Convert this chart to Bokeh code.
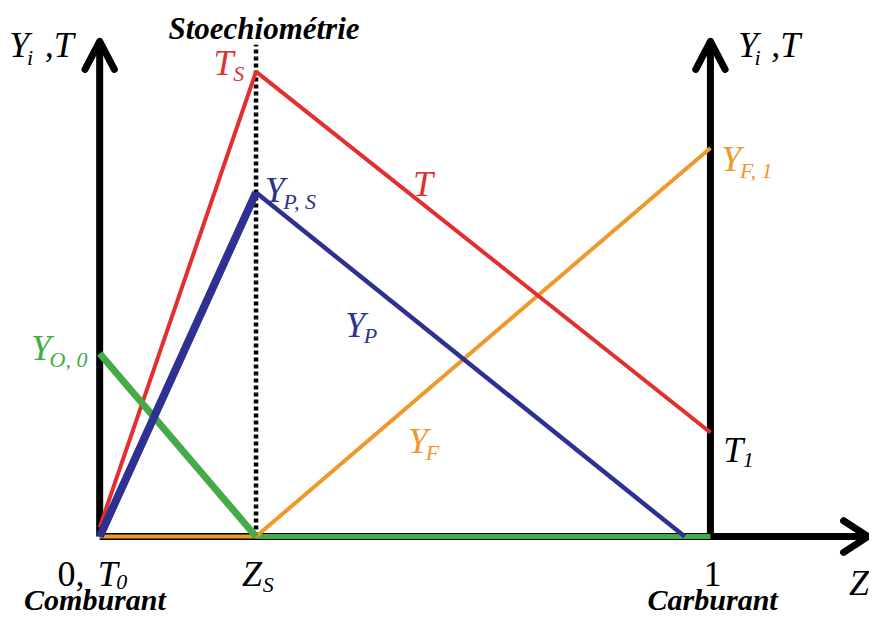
from bokeh.plotting import figure
from bokeh.models import Label
from bokeh.embed import file_html
from bokeh.resources import INLINE

# ---- data (normalised units: Z in [0,1], T_S = 1) ----
Z_S = 0.256
Z_P_END = 0.958
T_0 = 0.02
T_S = 1.0
T_1 = 0.224
Y_PS = 0.740
Y_O0 = 0.394
Y_F1 = 0.836

z_T = [0.0, Z_S, 1.0]
v_T = [T_0, T_S, T_1]
z_P_left = [0.0, Z_S]
v_P_left = [0.0, Y_PS]
z_P_right = [Z_S, Z_P_END]
v_P_right = [Y_PS, 0.0]
z_O_left = [0.0, Z_S]
v_O_left = [Y_O0, 0.0]
z_O_right = [Z_S, 1.0]
v_O_right = [0.0, 0.0]
z_F_left = [0.0, Z_S]
v_F_left = [0.0, 0.0]
z_F_right = [Z_S, 1.0]
v_F_right = [0.0, Y_F1]

AXIS_TOP = 1.065
X_AXIS_END = 1.258
DOT_TOP = 1.058

RED = "#e2302f"
BLUE = "#2e3192"
GREEN = "#45ab48"
ORANGE = "#ef982c"
BLACK = "#000000"

W, H = 869, 617
SX, SY = W / 885.0, H / 633.0
# reference image coords -> plot px (scaled)
PX0, PX1 = 101 * SX, 723 * SX     # Z=0, Z=1
PY0, PYS = 550 * SY, 73 * SY      # y=0, y=T_S (from top)
sx = (PX1 - PX0)
sy = (PY0 - PYS)


def X(img_x):
    return (img_x * SX - PX0) / sx


def Y(img_y):
    return (PY0 - img_y * SY) / sy


p = figure(width=W, height=H, output_backend="svg", toolbar_location=None,
           x_range=(-PX0 / sx, (W - PX0) / sx),
           y_range=(-(H - PY0) / sy, PY0 / sy),
           min_border=0, background_fill_color="white")
p.axis.visible = False
p.grid.visible = False
p.outline_line_color = None

# axes with arrows
p.line([0, 0], [0, AXIS_TOP], line_color=BLACK, line_width=7)
p.line([1, 1], [0, AXIS_TOP], line_color=BLACK, line_width=7)
p.line([0, X_AXIS_END], [0, 0], line_color=BLACK, line_width=7)
for zx in (0.0, 1.0):
    p.line([zx - 0.024, zx, zx + 0.024], [AXIS_TOP - 0.06, AXIS_TOP, AXIS_TOP - 0.06],
           line_color=BLACK, line_width=7, line_join="round", line_cap="round")
p.line([X_AXIS_END - 0.04, X_AXIS_END, X_AXIS_END - 0.04], [0.034, 0, -0.034],
       line_color=BLACK, line_width=7, line_join="round", line_cap="round")

# stoichiometric dotted line
p.line([Z_S, Z_S], [0, DOT_TOP], line_color=BLACK, line_width=4.5, line_dash="4 3")

# profiles
p.line(z_F_left, v_F_left, line_color=ORANGE, line_width=4)
p.line(z_O_right, v_O_right, line_color=GREEN, line_width=5)
p.line(z_F_right, v_F_right, line_color=ORANGE, line_width=4)
p.line(z_T, v_T, line_color=RED, line_width=4)
p.line(z_O_left, v_O_left, line_color=GREEN, line_width=7)
p.line(z_P_right, v_P_right, line_color=BLUE, line_width=4.5)
p.line(z_P_left, v_P_left, line_color=BLUE, line_width=8)

SERIF = "Liberation Serif"
MAIN = "36px"
SUB = "22px"


def txt(s, ix, iy, color=BLACK, size=MAIN, style="italic"):
    p.add_layout(Label(x=X(ix), y=Y(iy), text=s, text_color=color,
                       text_font=SERIF, text_font_size=size,
                       text_font_style=style, text_baseline="alphabetic",
                       text_align="left"))


# axis titles
txt("Y", 9, 46)
txt("i", 27, 58, size=SUB)
txt(",T", 45, 46)
txt("Y", 751, 46)
txt("i", 768, 58, size=SUB)
txt(",T", 785, 46)

txt("Stoechiométrie", 171, 29, size="31px", style="bold italic")

txt("T", 217, 64, RED)
txt("S", 237, 75, RED, SUB)
txt("T", 420, 188, RED)

txt("Y", 269, 194, BLUE)
txt("P, S", 288, 206, BLUE, SUB)
txt("Y", 351, 333, BLUE)
txt("P", 370, 344, BLUE, SUB)

txt("Y", 31, 356, GREEN)
txt("O, 0", 50, 368, GREEN, SUB)

txt("Y", 415, 452, ORANGE)
txt("F", 433, 464, ORANGE, SUB)
txt("Y", 734, 163, ORANGE)
txt("F, 1", 753, 174, ORANGE, SUB)

txt("T", 736, 461)
txt("1", 756, 471, size=SUB)

txt("0, ", 58, 588, style="normal")
txt("T", 99, 588)
txt("0", 118, 597, size=SUB)
txt("Z", 246, 588)
txt("S", 267, 599, size=SUB)
txt("1", 716, 588, style="normal")
txt("Z", 864, 598)

txt("Comburant", 24, 615, size="30px", style="bold italic")
txt("Carburant", 659, 615, size="30px", style="bold italic")

open("out.html", "w").write(file_html(p, INLINE))
